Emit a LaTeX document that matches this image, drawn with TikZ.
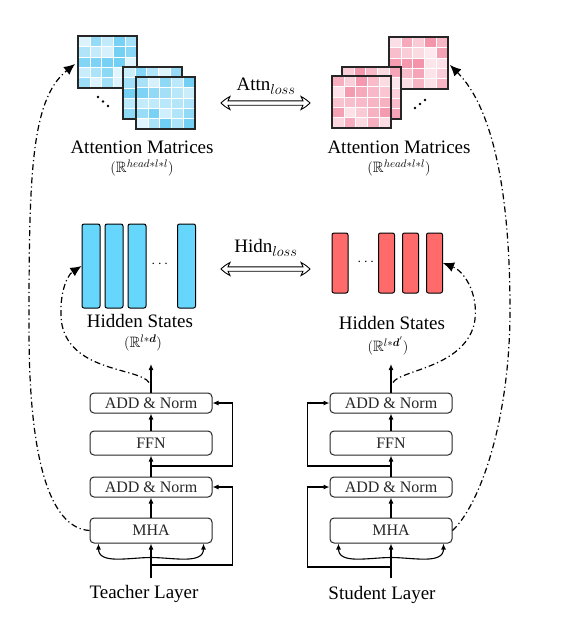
\documentclass[tikz,border=0pt]{standalone}
\usepackage{amsmath}
\usepackage{amssymb}
\usepackage{fontspec}
\setmainfont{Liberation Serif}
\usetikzlibrary{calc,positioning,arrows.meta}
\definecolor{hidblue}{RGB}{102,214,252}
\definecolor{hidred}{RGB}{255,107,107}
\definecolor{attblue}{RGB}{60,190,240}
\definecolor{attpink}{RGB}{240,110,140}
\tikzstyle{layerbox} = [rectangle, draw=black!85, rounded corners=4pt, line width=1pt, minimum width=122pt, inner sep=0pt, text=black!85, font=\fontsize{16}{18}\selectfont]
\tikzstyle{line} = [draw, line width=1.1pt, -{Latex[length=6pt,width=5pt]}]
\tikzstyle{distill} = [draw, line width=1.2pt, dash pattern=on 6pt off 3pt on 1.2pt off 3pt, -{Latex[length=11pt,width=10pt]}]
\tikzstyle{tbar} = [rectangle, draw, rounded corners=2pt, line width=1pt, fill=hidblue, minimum width=18pt, minimum height=84pt]
\tikzstyle{sbar} = [rectangle, draw, rounded corners=2pt, line width=1pt, fill=hidred, minimum width=16pt, minimum height=60pt]
\tikzstyle{captext} = [font=\fontsize{19}{22}\selectfont, inner sep=0pt]
\tikzstyle{dimtext} = [font=\fontsize{15}{17}\selectfont, inner sep=0pt]
% one 5x5 attention map: x, y, colour, offset
\newcommand{\attnmat}[4]{%
  \foreach \i in {0,...,4}{%
    \foreach \j in {0,...,4}{%
      \pgfmathtruncatemacro{\shade}{15+mod(\i*37+\j*23+\i*\j*13+#4,60)}%
      \filldraw[fill=#3!\shade!white, draw=white, line width=0.6pt] ({#1+\i*11.8},{#2+\j*10.4}) rectangle ++(11.8,10.4);
    }%
  }%
  \draw[line width=1.2pt, black!85] (#1,#2) rectangle ++(59,52);
}
% hollow two-headed arrow between two coordinates
\newcommand{\lossarrow}[2]{%
  \draw[line width=0.9pt, fill=white, line join=miter]
    (#1) to[bend left=8] ($(#1)+(9,-6.5)$) -- ($(#1)+(7,-2.2)$) -- ($(#2)+(-7,-2.2)$)
    -- ($(#2)+(-9,-6.5)$) to[bend left=8] (#2) to[bend left=8] ($(#2)+(-9,6.5)$) -- ($(#2)+(-7,2.2)$)
    -- ($(#1)+(7,2.2)$) -- ($(#1)+(9,6.5)$) to[bend left=8] cycle;
}

\begin{document}
\begin{tikzpicture}[x=1pt, y=-1pt]
  \useasboundingbox (0,0) rectangle (572,625);
  % Attention matrices
  \attnmat{78}{36}{attblue}{3}
  \attnmat{123}{67}{attblue}{11}
  \attnmat{136}{77}{attblue}{29}
  \foreach \k in {0,1,2} \fill (98+\k*5,97+\k*4.5) circle (1.4pt);
  \attnmat{389}{37}{attpink}{7}
  \attnmat{342}{67}{attpink}{19}
  \attnmat{332}{76}{attpink}{41}
  \foreach \k in {0,1,2} \fill (415+\k*5,108-\k*4) circle (1.4pt);
  \coordinate (tatt) at (75,64);
  \coordinate (satt) at (450,65);

  \node[captext] (tattname) at (142,147) {Attention Matrices};
  \node[dimtext, below=6pt of tattname] (tattdim) {$(\mathbb{R}^{head*l*l})$};
  \node[captext] (sattname) at (399,147) {Attention Matrices};
  \node[dimtext, below=6pt of sattname] (sattdim) {$(\mathbb{R}^{head*l*l})$};

  \node[captext] (attnloss) at (266,86) {Attn$_{loss}$};
  \coordinate (al) at (221,103);
  \coordinate (ar) at (310,103);
  \lossarrow{al}{ar}

  % Hidden states
  \node[tbar] (tb1) at (91,266) {};
  \node[tbar, right=4pt of tb1] (tb2) {};
  \node[tbar, right=4pt of tb2] (tb3) {};
  \node[tbar] (tb4) at (186.5,266) {};
  \node[dimtext] (tdots) at (161,264) {$\cdots$};
  \node[sbar] (sb1) at (340,263) {};
  \node[dimtext] (sdots) at (367,262) {$\cdots$};
  \node[sbar] (sb2) at (386.5,263) {};
  \node[sbar, right=7pt of sb2] (sb3) {};
  \node[sbar, right=7pt of sb3] (sb4) {};

  \node[captext] (thidname) at (140,321) {Hidden States};
  \node[dimtext, below=7pt of thidname, xshift=3pt] (thiddim) {$(\mathbb{R}^{l*\boldsymbol{d}})$};
  \node[captext] (shidname) at (392,323) {Hidden States};
  \node[dimtext, below=7pt of shidname, xshift=-4pt] (shiddim) {$(\mathbb{R}^{l*\boldsymbol{d}'})$};

  \node[captext] (hidnloss) at (266,248) {Hidn$_{loss}$};
  \coordinate (hl) at (221,269);
  \coordinate (hr) at (310,269);
  \lossarrow{hl}{hr}

  % Teacher layer
  \node[layerbox, minimum height=25pt] (tmha) at (151,530.5) {MHA};
  \node[layerbox, minimum height=20pt, above=20pt of tmha] (tadd1) {ADD \& Norm};
  \node[layerbox, minimum height=24pt, above=21pt of tadd1] (tffn) {FFN};
  \node[layerbox, minimum height=20pt, above=17pt of tffn] (tadd2) {ADD \& Norm};
  \node[captext] (tname) at (144,594) {Teacher Layer};
  \coordinate (tin) at (151,578);
  \coordinate (tout) at (151,364);
  \coordinate (tres1) at (151,565);
  \coordinate (tres2) at ($(tadd1.north)!0.5!(tffn.south)$);

  % Student layer
  \node[layerbox, minimum height=25pt] (smha) at (391,530.5) {MHA};
  \node[layerbox, minimum height=20pt, above=20pt of smha] (sadd1) {ADD \& Norm};
  \node[layerbox, minimum height=24pt, above=21pt of sadd1] (sffn) {FFN};
  \node[layerbox, minimum height=20pt, above=17pt of sffn] (sadd2) {ADD \& Norm};
  \node[captext] (sname) at (382,595) {Student Layer};
  \coordinate (sin) at (391,578);
  \coordinate (sout) at (391,364);
  \coordinate (sres1) at (391,567);
  \coordinate (sres2) at ($(sadd1.north)!0.5!(sffn.south)$);

  % Lines
  \path[line] (tin) -- (tmha.south);
  \path[line] (tmha) -- (tadd1);
  \path[line] (tadd1) -- (tffn);
  \path[line] (tffn) -- (tadd2);
  \path[line] (tadd2) -- (tout);
  \path[line] (tres1) -| ($(tadd1.east)+(20,0)$) -- (tadd1.east);
  \path[line] (tres2) -| ($(tadd2.east)+(20,0)$) -- (tadd2.east);
  \path[line] ($(tmha.south)+(0,14)$) to[out=180,in=-90] ($(tmha.south west)+(9,0)$);
  \path[line] ($(tmha.south)+(0,14)$) to[out=0,in=-90] ($(tmha.south east)+(-9,0)$);

  \path[line] (sin) -- (smha.south);
  \path[line] (smha) -- (sadd1);
  \path[line] (sadd1) -- (sffn);
  \path[line] (sffn) -- (sadd2);
  \path[line] (sadd2) -- (sout);
  \path[line] (sres1) -| ($(sadd1.west)+(-22,0)$) -- (sadd1.west);
  \path[line] (sres2) -| ($(sadd2.west)+(-22,0)$) -- (sadd2.west);
  \path[line] ($(smha.south)+(0,14)$) to[out=180,in=-90] ($(smha.south west)+(9,0)$);
  \path[line] ($(smha.south)+(0,14)$) to[out=0,in=-90] ($(smha.south east)+(-9,0)$);

  % Distillation links
  \path[distill] (tmha.west) .. controls (50,528) and (29,460) .. (29,330)
    .. controls (29,180) and (30,100) .. (tatt);
  \path[distill] ($(tadd2.north)+(-2,-10)$) .. controls (140,368) and (72,372) .. (62,325)
    .. controls (58,298) and (66,276) .. (tb1.west);
  \path[distill] (smha.east) .. controls (480,505) and (510,420) .. (510,310)
    .. controls (510,200) and (495,110) .. (satt);
  \path[distill] ($(sadd2.north)+(2,-10)$) .. controls (400,370) and (462,368) .. (474,325)
    .. controls (480,298) and (466,272) .. (sb4.east);
\end{tikzpicture}
\end{document}
